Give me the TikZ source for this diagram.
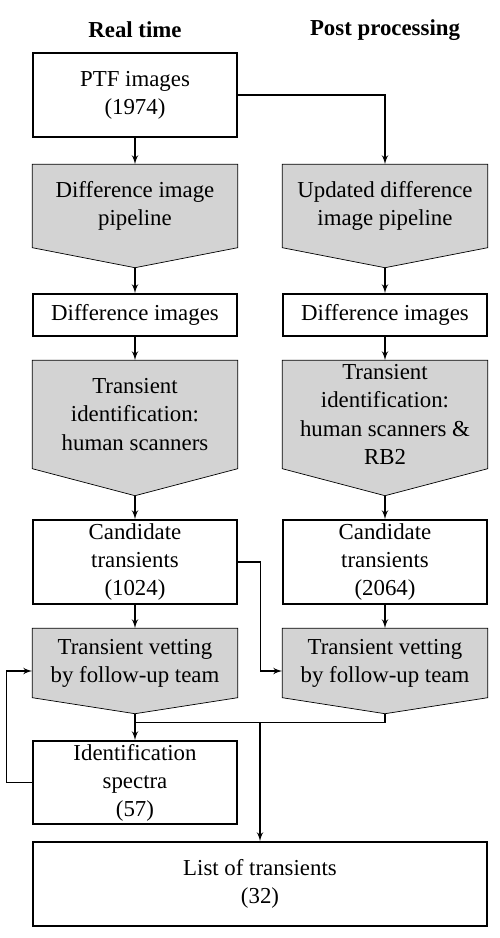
\documentclass[tikz,border=0pt]{standalone}
\usepackage{fontspec}
\setmainfont{Liberation Serif}
\usepackage{xcolor}
\usepackage{tikz}
\usetikzlibrary{arrows,calc,backgrounds}

\definecolor{boxgray}{RGB}{211,211,211}
\tikzset{
  box/.style={draw, rectangle, minimum width=4.08cm, inner sep=0pt, align=center,
    font=\fontsize{13}{16}\selectfont},
  pipe/.style={rectangle, minimum width=4.08cm, inner sep=0pt, align=center,
    font=\fontsize{13}{16}\selectfont},
  head/.style={font=\fontsize{13}{16}\selectfont\bfseries}
}

\begin{document}
\begin{tikzpicture}[x=0.02cm,y=-0.02cm,line width=0.8pt,>=latex']
\useasboundingbox (0,0) rectangle (500,938);
\node[head] (H1) at (135,30) {Real time};
\node[head] (H2) at (385,30) {Post processing};

  \node[box, minimum height=1.68cm]   (ptf) at (135,95)      {PTF images\\(1974)};
  \node[pipe, minimum height=1.64cm]  (pipe1) at (135,206)   {Difference image\\pipeline};
  \node[pipe, minimum height=1.64cm]  (pipe2) at (385,206)   {Updated difference\\image pipeline};
  \node[box, minimum height=0.84cm]   (diff1) at (135,315)   {Difference images};
  \node[box, minimum height=0.84cm]   (diff2) at (385,315)   {Difference images};
  \node[pipe, minimum height=2.14cm]  (ident1) at (135,414.5) {Transient\\identification:\\human scanners};
  \node[pipe, minimum height=2.14cm]  (ident2) at (385,414.5) {Transient\\identification:\\human scanners \&\\RB2};
  \node[box, minimum height=1.68cm]   (cand1) at (135,562)   {Candidate\\transients\\(1024)};
  \node[box, minimum height=1.68cm]   (cand2) at (385,562)   {Candidate\\transients\\(2064)};
  \node[pipe, minimum height=1.36cm]  (vet1) at (135,663)    {Transient vetting\\by follow-up team};
  \node[pipe, minimum height=1.36cm]  (vet2) at (385,663)    {Transient vetting\\by follow-up team};
  \node[box, minimum height=1.66cm]   (spec) at (135,782.5)  {Identification\\spectra\\(57)};
  \node[box, minimum height=1.68cm, minimum width=9.08cm] (list) at (260,884) {List of transients\\(32)};

% grey pentagons behind the pipe nodes
\begin{scope}[on background layer]
  \foreach \n/\d in {pipe1/20,pipe2/20,ident1/27,ident2/27,vet1/16,vet2/16} {
    \draw[fill=boxgray] (\n.north west) -- (\n.north east) -- (\n.south east)
      -- ($(\n.south)+(0,\d)$) coordinate (\n-tip) -- (\n.south west) -- cycle;
  }
\end{scope}

\coordinate (vet1in) at ($(vet1.west)+(0,8)$);
\coordinate (vet2in) at ($(vet2.west)+(0,8)$);
\coordinate (merge) at ($(vet1-tip)+(0,9)$);

  \path[->]
        (ptf.south) edge (pipe1.north)
        (pipe1-tip) edge (diff1.north)
        (pipe2-tip) edge (diff2.north)
        (diff1.south) edge (ident1.north)
        (diff2.south) edge (ident2.north)
        (ident1-tip) edge (cand1.north)
        (ident2-tip) edge (cand2.north)
        (cand1.south) edge (vet1.north)
        (cand2.south) edge (vet2.north)
        (vet1-tip) edge (spec.north);

  \draw[->] (ptf.east) -| (pipe2.north);
  \draw[->] (cand1.east) -- ++(23,0) |- (vet2in);
  \draw[->] (spec.west) -- ++(-26,0) |- (vet1in);
  \draw (vet2-tip) |- (merge);
  \draw[->] (merge -| list.north) -- (list.north);

\end{tikzpicture}
\end{document}
